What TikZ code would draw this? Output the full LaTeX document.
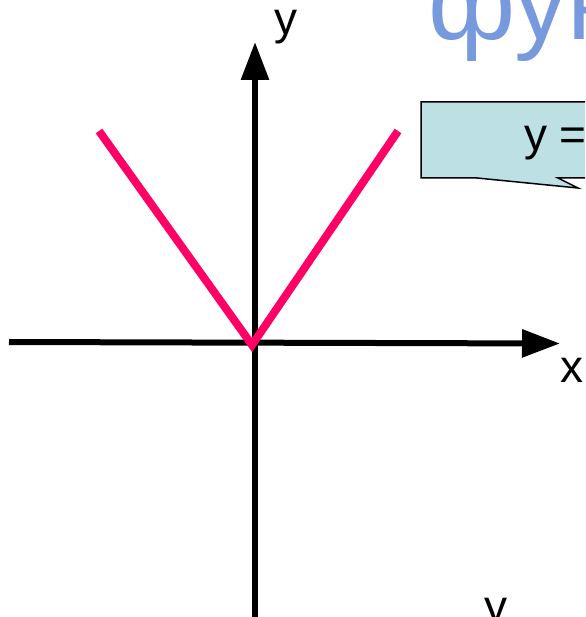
\documentclass[tikz,border=0pt]{standalone}
\usepackage{fontspec}
\setmainfont{Liberation Sans}
\usetikzlibrary{arrows.meta}
\definecolor{vpink}{RGB}{255,0,102}
\definecolor{titleblue}{RGB}{119,153,221}
\definecolor{calloutfill}{RGB}{188,224,228}
\begin{document}
\begin{tikzpicture}[x=1pt,y=-1pt,
  axis/.style={line width=6pt,-{Triangle[length=38pt,width=27pt]}},
  vline/.style={vpink,line width=8pt},
  lbl/.style={inner sep=0pt,anchor=base,font=\fontsize{46}{50}\selectfont}]
\useasboundingbox (0,0) rectangle (585,617);
\clip (0,0) rectangle (585,617);
% title (cut off)
\node[anchor=base west,inner sep=0pt,text=titleblue,font=\fontsize{106}{110}\selectfont] (title) at (428,40) {фун};
% callout
\draw[fill=calloutfill,line width=1.5pt] (421,102) -- (600,102) -- (600,178) -- (558,178) -- (578,188) -- (477,178) -- (421,178) -- cycle;
\node[lbl,anchor=base west] (eq) at (524,151) {y =};
% axes
\coordinate (xl) at (9,342);
\coordinate (xr) at (560,343.5);
\coordinate (yb) at (255,625);
\coordinate (yt) at (255,42);
\draw[axis] (xl) -- (xr);
\draw[axis] (yb) -- (yt);
\node[lbl] (xlab) at (572,382) {x};
\node[lbl] (ylab) at (285.5,35) {y};
\node[lbl] (ylab2) at (496,622) {y};
% |x|
\coordinate (vl) at (99,131);
\coordinate (vo) at (252,345);
\coordinate (vr) at (398,131);
\draw[vline] (vl) -- (vo) -- (vr);
\end{tikzpicture}
\end{document}
